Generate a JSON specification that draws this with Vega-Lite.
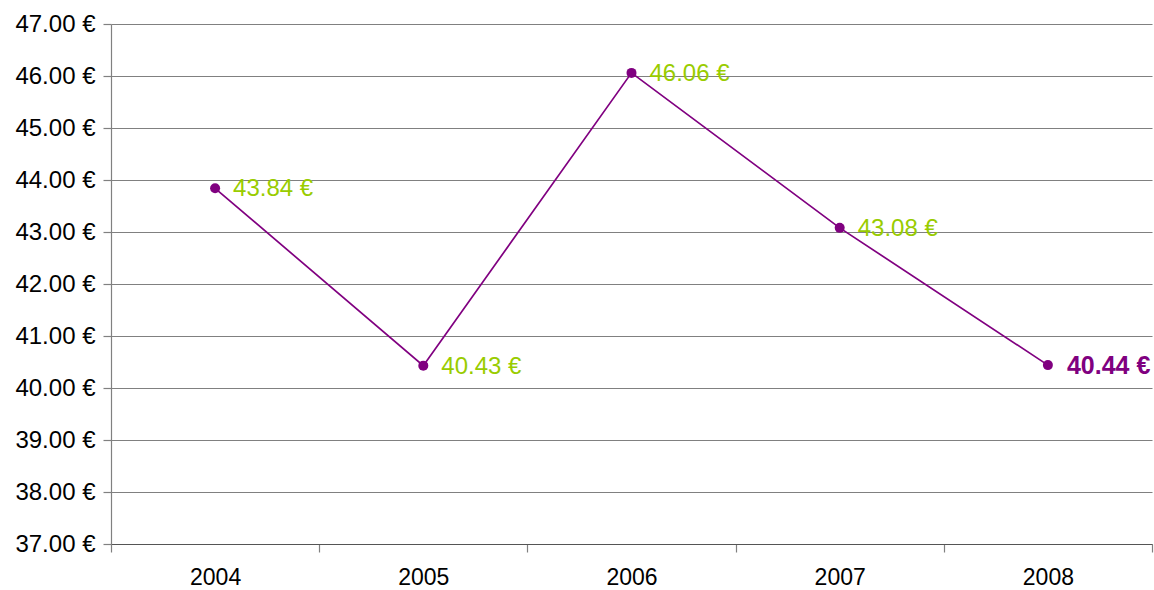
{
  "$schema": "https://vega.github.io/schema/vega-lite/v6.json",
  "width": 1041,
  "height": 520,
  "autosize": {"type": "none"},
  "padding": {"left": 111, "top": 24, "right": 2, "bottom": 46},
  "background": "white",
  "config": {
    "view": {"stroke": null},
    "font": "Liberation Sans",
    "axis": {"labelFont": "Liberation Sans", "labelColor": "#000000", "gridColor": "#808080", "gridWidth": 1.2, "domainColor": "#808080", "tickColor": "#808080", "domainWidth": 1.2, "tickWidth": 1.2, "labelOverlap": false}
  },
  "data": {
    "values": [
      {"year": "2004", "value": 43.84},
      {"year": "2005", "value": 40.43},
      {"year": "2006", "value": 46.06},
      {"year": "2007", "value": 43.08},
      {"year": "2008", "value": 40.44}
    ]
  },
  "encoding": {
    "x": {
      "field": "year", "type": "ordinal",
      "scale": {"type": "band", "paddingInner": 0, "paddingOuter": 0},
      "axis": {"title": null, "labelAngle": 0, "labelFontSize": 23, "tickBand": "extent", "tickSize": 8, "labelPadding": 14, "grid": false, "domainColor": "#555555"}
    },
    "y": {
      "field": "value", "type": "quantitative",
      "scale": {"domain": [37, 47], "nice": false, "zero": false},
      "axis": {"title": null, "values": [37,38,39,40,41,42,43,44,45,46,47], "labelFontSize": 24, "labelExpr": "format(datum.value, '.2f') + ' €'", "tickSize": 8, "labelPadding": 8, "grid": true}
    }
  },
  "layer": [
    {"mark": {"type": "line", "color": "#800080", "strokeWidth": 1.7}},
    {"mark": {"type": "point", "filled": true, "color": "#800080", "opacity": 1, "size": 100}},
    {
      "transform": [{"filter": "datum.year != '2008'"}, {"calculate": "format(datum.value, '.2f') + ' €'", "as": "label"}],
      "mark": {"type": "text", "align": "left", "baseline": "middle", "dx": 18, "dy": 1, "fontSize": 24, "font": "Liberation Sans", "color": "#99CC00"},
      "encoding": {"text": {"field": "label", "type": "nominal"}}
    },
    {
      "transform": [{"filter": "datum.year == '2008'"}, {"calculate": "format(datum.value, '.2f') + ' €'", "as": "label"}],
      "mark": {"type": "text", "align": "left", "baseline": "middle", "dx": 19, "dy": 1, "fontSize": 25, "fontWeight": "bold", "font": "Liberation Sans", "color": "#800080"},
      "encoding": {"text": {"field": "label", "type": "nominal"}}
    }
  ]
}
